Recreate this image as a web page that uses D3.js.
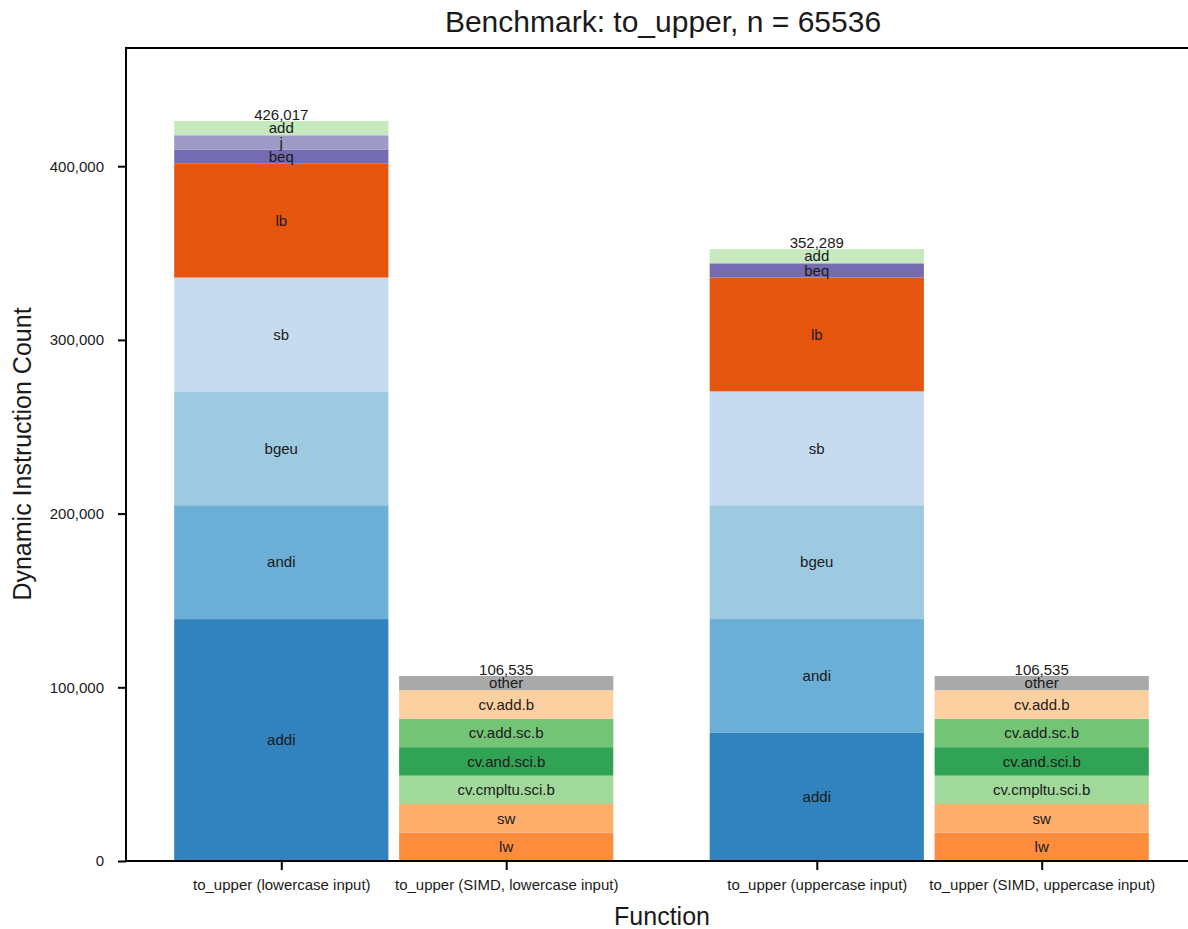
<!DOCTYPE html>
<html>
<head>
<meta charset="utf-8">
<script src="https://cdn.jsdelivr.net/npm/d3@7"></script>
<style>
  body { margin: 0; background: #fff; }
  svg text { font-family: "Liberation Sans", Arial, Helvetica, sans-serif; fill: #1a1a1a; }
</style>
</head>
<body>
<div id="chart"></div>
<script>
// data
var bars = [
  { name: "to_upper (lowercase input)", group: 0, side: -1 },
  { name: "to_upper (SIMD, lowercase input)", group: 0, side: 1 },
  { name: "to_upper (uppercase input)", group: 1, side: -1 },
  { name: "to_upper (SIMD, uppercase input)", group: 1, side: 1 }
];
// segments bottom -> top for each bar
var scalarLowerNames = ["addi", "andi", "bgeu", "sb", "lb", "beq", "j", "add", "misc"];
var scalarLowerValues = [139270, 65536, 65536, 65536, 65536, 8200, 8200, 8200, 3];
var simdNames = ["lw", "sw", "cv.cmpltu.sci.b", "cv.and.sci.b", "cv.add.sc.b", "cv.add.b", "other", "misc2"];
var simdValues = [16384, 16384, 16384, 16384, 16384, 16384, 8200, 31];
var scalarUpperNames = ["addi", "andi", "bgeu", "sb", "lb", "beq", "add", "misc"];
var scalarUpperValues = [73742, 65536, 65536, 65536, 65536, 8200, 8200, 3];
var yTicks = [0, 100000, 200000, 300000, 400000];

var colors = {
  "addi": "#3182bd", "andi": "#6baed6", "bgeu": "#9ecae1", "sb": "#c6dbef",
  "lb": "#e6550d", "beq": "#756bb1", "j": "#9e9ac8", "add": "#c7e9c0",
  "misc": "#fdd0a2", "lw": "#fd8d3c", "sw": "#fdae6b", "cv.cmpltu.sci.b": "#a1d99b",
  "cv.and.sci.b": "#31a354", "cv.add.sc.b": "#74c476", "cv.add.b": "#fdd0a2",
  "other": "#a9a9a9", "misc2": "#a1d99b"
};

var segNames = [scalarLowerNames, simdNames, scalarUpperNames, simdNames];
var segValues = [scalarLowerValues, simdValues, scalarUpperValues, simdValues];

var width = 1188, height = 929;
var fs = "15px";

var svg = d3.select("#chart").append("svg")
  .attr("width", width).attr("height", height);

var x = d3.scaleLinear().domain([-0.5, 1.5]).range([126, 1197]);
var totals = segValues.map(function(v) { return d3.sum(v); });
var y = d3.scaleLinear().domain([0, d3.max(totals) * 1.1]).range([861, 47]);

var barW = 0.4, off = 0.21;

bars.forEach(function(b, i) {
  var cx = b.group + b.side * off;
  var g = svg.append("g");
  var acc = 0;
  var segs = segValues[i].map(function(v, k) {
    var s = { name: segNames[i][k], y0: acc, y1: acc + v };
    acc += v;
    return s;
  });
  g.selectAll("rect").data(segs).enter().append("rect")
    .attr("x", x(cx - barW / 2))
    .attr("width", x(cx + barW / 2) - x(cx - barW / 2))
    .attr("y", function(d) { return y(d.y1); })
    .attr("height", function(d) { return y(d.y0) - y(d.y1); })
    .attr("fill", function(d) { return colors[d.name]; });

  g.selectAll("text.seg").data(segs.filter(function(d) { return y(d.y0) - y(d.y1) > 8; }))
    .enter().append("text")
    .attr("class", "seg")
    .attr("x", x(cx))
    .attr("y", function(d) { return (y(d.y0) + y(d.y1)) / 2; })
    .attr("dy", "0.35em")
    .attr("text-anchor", "middle")
    .style("font-size", fs)
    .text(function(d) { return d.name; });

  g.append("text")
    .attr("x", x(cx))
    .attr("y", y(totals[i]) - 1)
    .attr("text-anchor", "middle")
    .style("font-size", fs)
    .text(d3.format(",")(totals[i]));
});

// y axis
var yAxis = d3.axisLeft(y).tickValues(yTicks).tickFormat(d3.format(",")).tickSize(8).tickPadding(14);
var yg = svg.append("g").attr("transform", "translate(126,0)").call(yAxis);
yg.select(".domain").remove();
yg.selectAll("line").attr("stroke", "#000").attr("stroke-width", 2);
yg.selectAll("text").style("font-size", fs).style("font-family", "Liberation Sans, Arial, sans-serif").attr("fill", "#1a1a1a");

// x axis
var xAxis = d3.axisBottom(x)
  .tickValues(bars.map(function(b) { return b.group + b.side * off; }))
  .tickFormat(function(d, i) { return bars[i].name; })
  .tickSize(9).tickPadding(9);
var xg = svg.append("g").attr("transform", "translate(0,861)").call(xAxis);
xg.select(".domain").remove();
xg.selectAll("line").attr("stroke", "#000").attr("stroke-width", 2);
xg.selectAll("text").style("font-size", fs).style("font-family", "Liberation Sans, Arial, sans-serif").attr("fill", "#1a1a1a");

// spines
svg.append("line").attr("x1", 126).attr("x2", 126).attr("y1", 47).attr("y2", 862).attr("stroke", "#000").attr("stroke-width", 2);
svg.append("line").attr("x1", 125).attr("x2", 1197).attr("y1", 861).attr("y2", 861).attr("stroke", "#000").attr("stroke-width", 2);
svg.append("line").attr("x1", 125).attr("x2", 1197).attr("y1", 48).attr("y2", 48).attr("stroke", "#000").attr("stroke-width", 2);

// titles
svg.append("text").attr("x", 663).attr("y", 32).attr("text-anchor", "middle")
  .style("font-size", "30px").text("Benchmark: to_upper, n = 65536");
svg.append("text").attr("x", 662).attr("y", 925).attr("text-anchor", "middle")
  .style("font-size", "25px").text("Function");
svg.append("text").attr("transform", "translate(31,454) rotate(-90)").attr("text-anchor", "middle")
  .style("font-size", "25px").text("Dynamic Instruction Count");
</script>
</body>
</html>
